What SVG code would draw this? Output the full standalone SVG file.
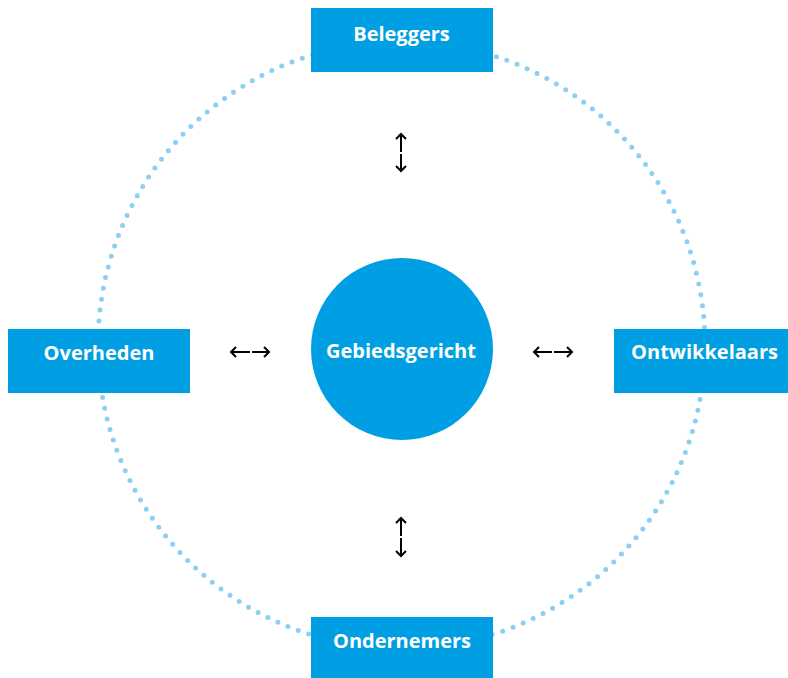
<svg xmlns="http://www.w3.org/2000/svg" width="788" height="678" viewBox="0 0 788 678">
<style>
.box{fill:#009fe3}
.lbl{font-family:"Open Sans","Liberation Sans",sans-serif;font-weight:bold;font-size:20px;fill:#fff;text-anchor:middle}
.arr{stroke:#000;stroke-width:2;fill:none;stroke-linecap:butt;stroke-linejoin:miter}
</style>
<rect width="788" height="678" fill="#fff"/>
<g id="ring">
<circle cx="401.5" cy="345" r="303.5" fill="none" stroke="#8ccff2" stroke-width="5" stroke-linecap="round" stroke-dasharray="0 10.98"/>
</g>
<g id="connectors">
<path class="arr" d="M401 134V152M396 139L401 134L406 139"/>
<path class="arr" d="M401 154V171M396 166L401 171L406 166"/>
<path class="arr" d="M401 518V536M396 523L401 518L406 523"/>
<path class="arr" d="M401 538V556M396 551L401 556L406 551"/>
<path class="arr" d="M231 352H250M236 347L231 352L236 357"/>
<path class="arr" d="M252 352H269M264 347L269 352L264 357"/>
<path class="arr" d="M534 352H552M539 347L534 352L539 357"/>
<path class="arr" d="M554 352H572M567 347L572 352L567 357"/>
</g>
<g id="beleggers">
<rect class="box" x="311" y="8" width="182" height="64"/>
<text class="lbl" x="401.5" y="41">Beleggers</text>
</g>
<g id="overheden">
<rect class="box" x="8" y="329" width="182" height="64"/>
<text class="lbl" x="99" y="360">Overheden</text>
</g>
<g id="ontwikkelaars">
<rect class="box" x="614" y="329" width="182" height="64"/>
<text class="lbl" x="704.5" y="359">Ontwikkelaars</text>
</g>
<g id="ondernemers">
<rect class="box" x="311" y="617" width="182" height="64"/>
<text class="lbl" x="402" y="648">Ondernemers</text>
</g>
<g id="gebiedsgericht">
<circle class="box" cx="402" cy="349" r="91"/>
<text class="lbl" x="401" y="358">Gebiedsgericht</text>
</g>
</svg>
